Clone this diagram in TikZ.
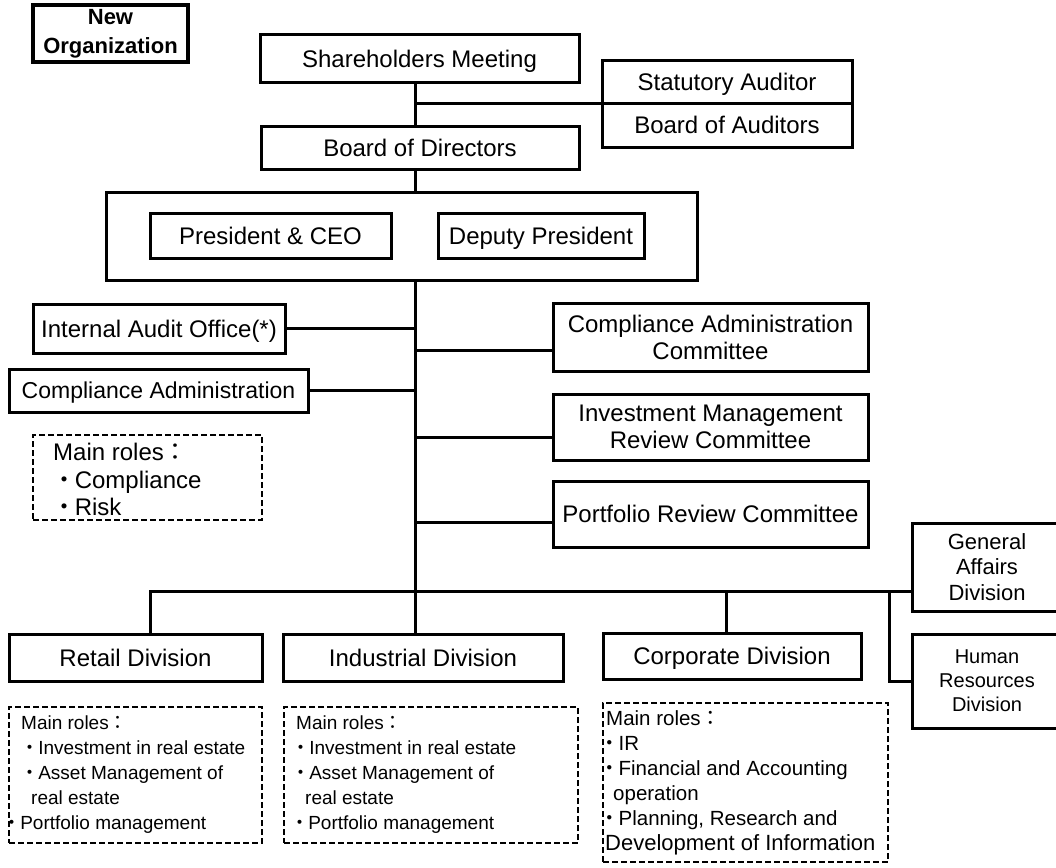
\documentclass[tikz,border=0pt]{standalone}
\usepackage{fontspec}
\setmainfont{Liberation Sans}
\newfontfamily\cjk{Noto Sans CJK JP}
\newcommand\szA{\fontsize{24}{27}\selectfont}
\newcommand\szR{\fontsize{19}{25}\selectfont}
\newcommand\szC{\fontsize{20.5}{25}\selectfont}
\newcommand\bul{\makebox[0.9em][c]{\cjk ・}}
\newcommand\colo{{\cjk ：}}
% \bx[options]{name}{x1}{y1}{x2}{y2}{text}
\newcommand\bx[7][]{\node[box,#1,minimum width={#5-#3},minimum height={#6-#4}] (#2) at ({(#3+#5)/2},{(#4+#6)/2}) {#7};}
\begin{document}
\begin{tikzpicture}[x=1pt,y=-1pt,
  box/.style={draw, line width=3pt, inner sep=0pt, outer sep=0pt, align=center, font=\szA},
  one/.style={text height=17.2pt, text depth=0pt},
  rolebox/.style={box, line width=2.6pt, dash pattern=on 6pt off 3pt},
  roletext/.style={anchor=west, inner sep=0pt, font=\szR, text height=13.6pt, text depth=0pt},
  rolecorp/.style={roletext, font=\szC, text height=14.7pt},
  rolebig/.style={anchor=west, inner sep=0pt, font=\szA, text height=17.2pt, text depth=0pt},
  conn/.style={line width=3pt}]
\useasboundingbox (0,0) rectangle (1056,867);

% header
\bx[line width=3.6pt, font=\fontsize{22}{29}\selectfont\bfseries]{neworg}{33}{5}{188}{62}{New\\Organization}

% top
\bx[one]{share}{260}{35}{579}{82}{Shareholders Meeting}
\bx[one]{stat}{602}{60}{852}{103}{Statutory Auditor}
\bx[one]{boa}{602}{103}{852}{147}{Board of Auditors}
\bx[one]{bod}{261}{126}{579}{169}{Board of Directors}
\bx{big}{106}{192}{697}{280}{}
\bx[one]{pres}{150}{213}{391}{258}{President \& CEO}
\bx[one]{dep}{438}{213}{644}{258}{Deputy President}

% left side
\bx[one]{iao}{33}{304}{285}{353}{Internal Audit Office(*)}
\bx[font=\fontsize{23}{27}\selectfont, text height=16.5pt, text depth=0pt]{ca}{9}{369}{308}{412}{Compliance Administration}
\bx[rolebox]{carole}{33}{435}{262}{520}{}
\node[rolebig] (cr1) at (53,452) {Main roles\colo};
\node[rolebig] (cr2) at (53,480) {\bul Compliance};
\node[rolebig] (cr3) at (53,507) {\bul Risk};

% committees
\bx{cac}{553}{303}{868}{371}{Compliance Administration\\Committee}
\bx{imr}{553}{394}{868}{460}{Investment Management\\Review Committee}
\bx[one]{prc}{553}{481}{868}{547}{Portfolio Review Committee}

% divisions
\bx[one]{retail}{9}{634}{262}{681}{Retail Division}
\bx[one]{ind}{283}{634}{563}{681}{Industrial Division}
\bx[one]{corp}{603}{633}{861}{679}{Corporate Division}
\bx[font=\fontsize{22}{25.5}\selectfont]{ga}{912}{523}{1062}{611}{General\\Affairs\\Division}
\bx[font=\fontsize{20}{24}\selectfont]{hr}{912}{634}{1062}{728}{Human\\Resources\\Division}

% role boxes of divisions
\bx[rolebox]{rrole}{9}{707}{262}{843}{}
\node[roletext] (r1) at (21,723) {Main roles\colo};
\node[roletext] (r2) at (21,748) {\bul Investment in real estate};
\node[roletext] (r3) at (21,773) {\bul Asset Management of};
\node[roletext] (r4) at (31,798) {real estate};
\node[roletext] (r5) at (3,823) {\bul Portfolio management};

\bx[rolebox]{irole}{284}{707}{578}{843}{}
\node[roletext] (i1) at (296,723) {Main roles\colo};
\node[roletext] (i2) at (292,748) {\bul Investment in real estate};
\node[roletext] (i3) at (292,773) {\bul Asset Management of};
\node[roletext] (i4) at (305,798) {real estate};
\node[roletext] (i5) at (291,823) {\bul Portfolio management};

\bx[rolebox]{crole}{603}{703}{888}{862}{}
\node[rolecorp] (k1) at (606,718) {Main roles\colo};
\node[rolecorp] (k2) at (600,743) {\bul IR};
\node[rolecorp] (k3) at (600,768) {\bul Financial and Accounting};
\node[rolecorp] (k4) at (613,793) {operation};
\node[rolecorp] (k5) at (600,818) {\bul Planning, Research and};
\node[rolecorp, font=\fontsize{22}{25}\selectfont, text height=15.8pt] (k6) at (605,843) {Development of Information};

% connectors
\coordinate (tk) at (415,0);
\draw[conn] (tk |- share.south) -- (tk |- bod.north);
\draw[conn] (tk |- stat.south) -- (stat.south west);
\draw[conn] (tk |- bod.south) -- (tk |- big.north);
\draw[conn] (tk |- big.south) -- (tk |- ind.north);
\draw[conn] (iao.east) -- (tk |- iao.east);
\draw[conn] (ca.east) -- (tk |- ca.east);
\coordinate (ya) at (0,350);
\coordinate (yb) at (0,437);
\coordinate (yc) at (0,522);
\draw[conn] (tk |- ya) -- (cac.west |- ya);
\draw[conn] (tk |- yb) -- (imr.west |- yb);
\draw[conn] (tk |- yc) -- (prc.west |- yc);
\coordinate (rv) at (150,591);
\coordinate (cv) at (726,591);
\coordinate (hv) at (889,591);
\draw[conn] (rv |- retail.north) -- (rv) -- (ga.west |- rv);
\draw[conn] (cv) -- (cv |- corp.north);
\draw[conn] (hv) |- (hr.west);
\end{tikzpicture}
\end{document}
